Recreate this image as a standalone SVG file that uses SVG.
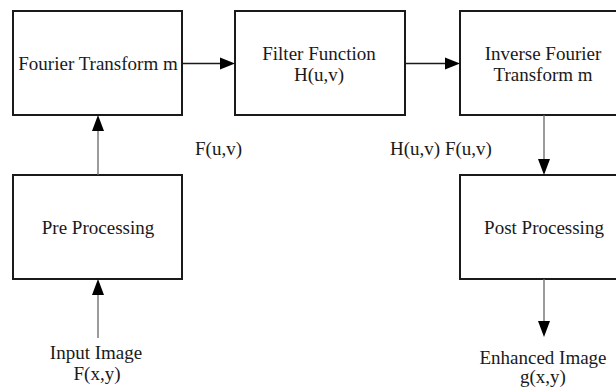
<svg xmlns="http://www.w3.org/2000/svg" width="616" height="389" viewBox="0 0 616 389">
<defs>
<style>
.box{fill:#fff;stroke:#1a1a1a;stroke-width:2}
.t{font-family:"Liberation Serif","Times New Roman",serif;font-size:19px;fill:#1a1a1a;text-anchor:middle}
.tl{font-family:"Liberation Serif","Times New Roman",serif;font-size:19px;fill:#1a1a1a}
.h{stroke:#1a1a1a;stroke-width:1.3;fill:none}
.v{stroke:#666;stroke-width:1.3;fill:none}
.ah{fill:#000}
</style>
</defs>
<rect width="616" height="389" fill="#fff"/>
<g id="node-fourier"><rect class="box" x="13" y="11" width="169" height="104"/><text class="t" x="98" y="70">Fourier Transform m</text></g>
<g id="node-filter"><rect class="box" x="235" y="11" width="170" height="104"/><text class="t" x="319" y="60">Filter Function</text><text class="t" x="319" y="81">H(u,v)</text></g>
<g id="node-inverse"><rect class="box" x="460" y="11" width="169" height="104"/><text class="t" x="543" y="60">Inverse Fourier</text><text class="t" x="543" y="81">Transform m</text></g>
<g id="node-pre"><rect class="box" x="13" y="175" width="169" height="104"/><text class="t" x="98" y="234">Pre Processing</text></g>
<g id="node-post"><rect class="box" x="460" y="175" width="169" height="104"/><text class="t" x="544" y="234">Post Processing</text></g>
<g id="node-input"><text class="t" x="96" y="359">Input Image</text><text class="t" x="97" y="380">F(x,y)</text></g>
<g id="node-output"><text class="t" x="543" y="364">Enhanced Image</text><text class="t" x="543" y="383">g(x,y)</text></g>
<g id="connectors">
<path class="h" d="M182 63.5H221"/><polygon class="ah" points="235,63.5 220,57.5 220,69.5"/>
<path class="h" d="M405 63.5H446"/><polygon class="ah" points="460,63.5 445,57.5 445,69.5"/>
<path class="v" d="M98 175V129"/><polygon class="ah" points="98,115 92,131 104,131"/>
<path class="v" d="M98 338V293"/><polygon class="ah" points="98,279 92,295 104,295"/>
<path class="v" d="M544 115V161"/><polygon class="ah" points="544,175 538,159 550,159"/>
<path class="v" d="M544 279V323"/><polygon class="ah" points="544,337 538,321 550,321"/>
<text class="tl" x="195" y="155">F(u,v)</text>
<text class="tl" x="390" y="155">H(u,v) F(u,v)</text>
</g>
</svg>
